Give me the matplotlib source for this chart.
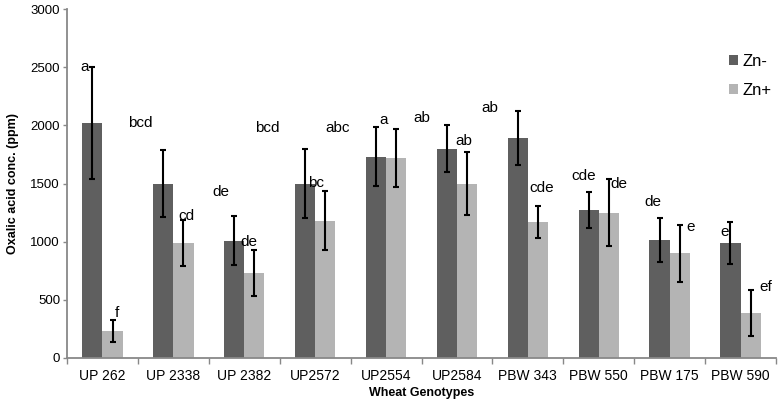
import matplotlib
matplotlib.use("Agg")
import matplotlib.pyplot as plt
import numpy as np

plt.rcParams['font.family'] = ['Liberation Sans', 'DejaVu Sans']

genotypes = ["UP 262", "UP 2338", "UP 2382", "UP2572", "UP2554", "UP2584",
             "PBW 343", "PBW 550", "PBW 175", "PBW 590"]
zn_minus = [2020, 1500, 1010, 1500, 1730, 1800, 1890, 1270, 1015, 990]
zn_minus_err = [480, 290, 210, 300, 255, 205, 235, 155, 190, 180]
zn_plus = [232, 990, 730, 1180, 1720, 1500, 1170, 1250, 900, 385]
zn_plus_err = [95, 195, 195, 255, 250, 275, 135, 290, 245, 200]

letters = ["a", "f", "bcd", "cd", "de", "de", "bcd", "bc", "abc", "a",
           "ab", "ab", "ab", "cde", "cde", "de", "de", "e", "e", "ef"]
letter_x = [-0.25, 0.20, 0.53, 1.18, 1.67, 2.07, 2.33, 3.01, 3.32, 3.97,
            4.51, 5.10, 5.47, 6.20, 6.79, 7.29, 7.77, 8.30, 8.77, 9.35]
letter_y = [2502, 387, 2020, 1221, 1427, 997, 1978, 1505, 1978, 2046,
            2064, 1866, 2150, 1462, 1565, 1496, 1341, 1126, 1083, 610]

dark = "#5f5f5f"
light = "#b4b4b4"

fig = plt.figure(figsize=(7.79, 4.03), dpi=100)
ax = fig.add_axes([67/779, 1-358/403, (776-67)/779, (358-9)/403])

x = np.arange(len(genotypes))
w = 0.285
ekw = dict(ecolor="black", elinewidth=1.5, capsize=2.4, capthick=1.5)
ax.bar(x - w/2, zn_minus, w, color=dark, label="Zn-", zorder=2)
ax.bar(x + w/2, zn_plus, w, color=light, label="Zn+", zorder=2)
ax.errorbar(x - w/2, zn_minus, yerr=zn_minus_err, fmt="none", zorder=3, **ekw)
ax.errorbar(x + w/2, zn_plus, yerr=zn_plus_err, fmt="none", zorder=3, **ekw)

for t, lx, ly in zip(letters, letter_x, letter_y):
    ax.text(lx, ly, t, ha="center", va="center", fontsize=11, zorder=4)

ax.set_xlim(-0.5, len(genotypes) - 0.5)
ax.set_ylim(0, 3000)
ax.set_yticks(np.arange(0, 3001, 500))
ax.tick_params(axis="y", length=3, width=1, color="#888888", labelsize=9.5, pad=2)
ax.set_xticks(x)
ax.set_xticklabels(genotypes)
ax.tick_params(axis="x", which="major", length=0, labelsize=10, pad=8)
ax.set_xticks(np.arange(-0.5, len(genotypes) + 0.5, 1), minor=True)
ax.tick_params(axis="x", which="minor", length=4, width=1, color="#888888")

for s in ["top", "right"]:
    ax.spines[s].set_visible(False)
for s in ["left", "bottom"]:
    ax.spines[s].set_color("#888888")
    ax.spines[s].set_linewidth(1.3)

ax.set_xlabel("Wheat Genotypes", fontsize=9, fontweight="bold", labelpad=3)
ax.set_ylabel("Oxalic acid conc. (ppm)", fontsize=9, fontweight="bold", labelpad=8)

leg = ax.legend(loc="upper right", bbox_to_anchor=(1.015, 0.915), frameon=False,
                fontsize=12, handlelength=0.55, handleheight=0.55,
                handletextpad=0.25, labelspacing=0.85)

fig.savefig("out.png", dpi=100)
